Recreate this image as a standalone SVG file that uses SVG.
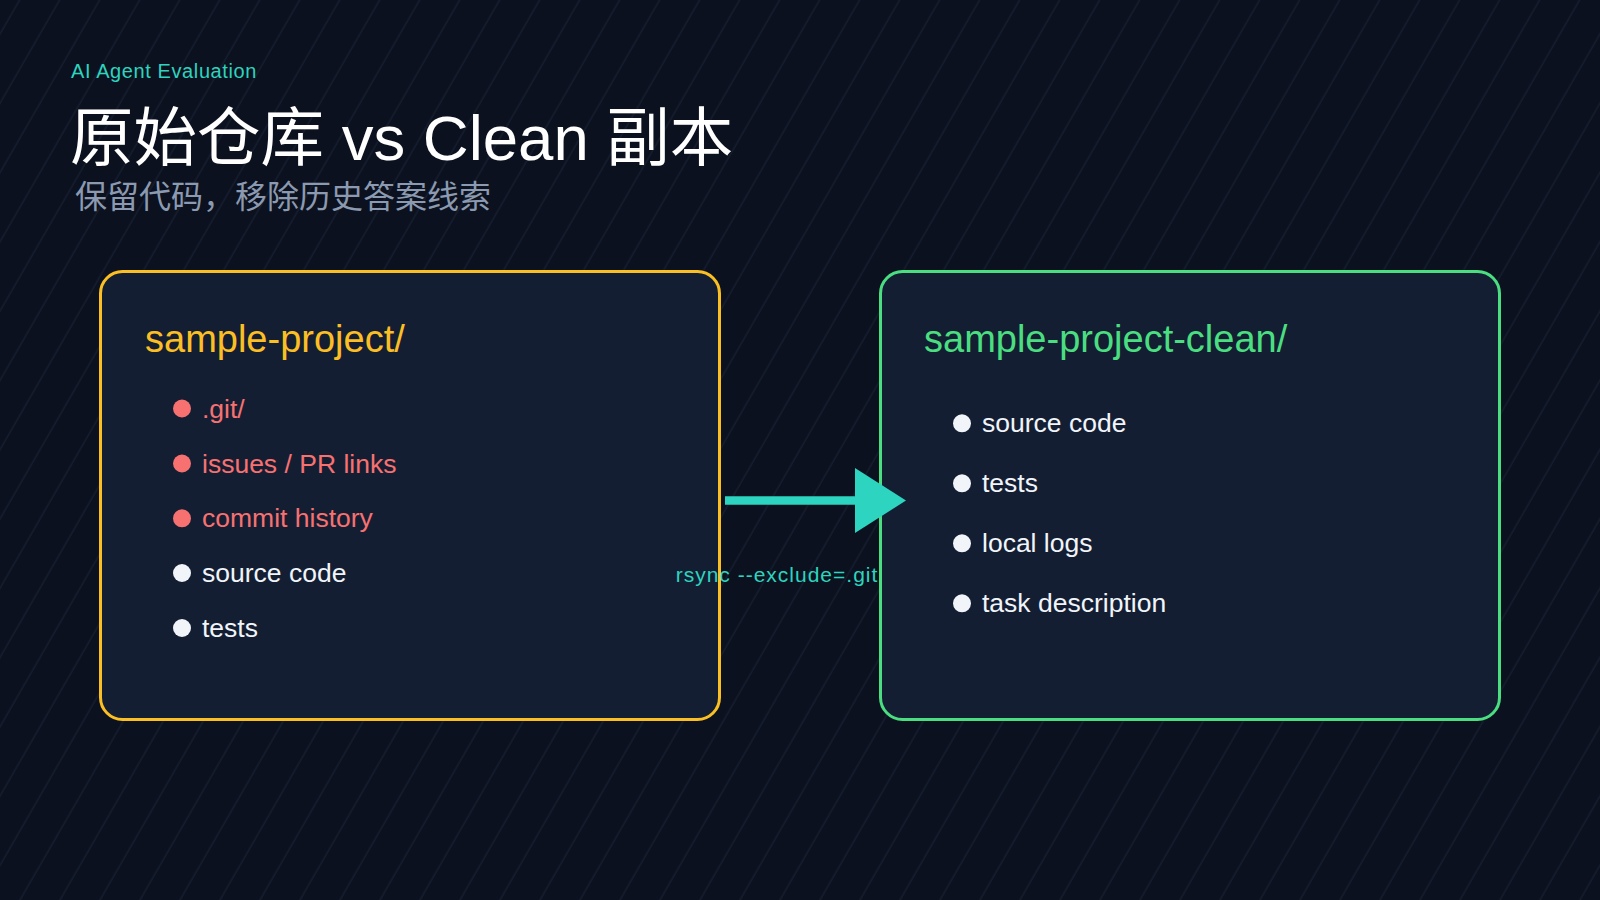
<svg xmlns="http://www.w3.org/2000/svg" width="1600" height="900" viewBox="0 0 1600 900">
  <defs>
    <pattern id="diag" width="34.64" height="34.64" patternUnits="userSpaceOnUse" patternTransform="rotate(30)">
      <line x1="17" y1="-1" x2="17" y2="36" stroke="#161e30" stroke-width="1.4"/>
    </pattern>
    <marker id="arrowhead" markerUnits="userSpaceOnUse" markerWidth="52" markerHeight="66" refX="0" refY="32.5" orient="auto">
      <path d="M0,0 L51,32.5 L0,65 Z" fill="#2dd4bf"/>
    </marker>
    <style>
      .latin { font-family: "Liberation Sans", "Noto Sans CJK SC", sans-serif; }
      .cjk { font-family: "Liberation Sans", "Noto Sans CJK SC", sans-serif; }
      .box { fill: #141e33; stroke-width: 3; }
      .item { font-size: 26.5px; }
      .red { fill: #f87171; }
      .white { fill: #f1f5f9; }
      .head { font-size: 38px; }
    </style>
  </defs>

  <rect x="0" y="0" width="1600" height="900" fill="#0b111e"/>
  <rect x="0" y="0" width="1600" height="900" fill="url(#diag)"/>

  <g id="header">
    <text x="71" y="78" class="latin" font-size="20" letter-spacing="0.6" fill="#2dd4bf">AI Agent Evaluation</text>
    <text x="70" y="160" class="cjk" font-size="63.5" fill="#ffffff">原始仓库 vs Clean 副本</text>
    <text x="75" y="208" class="cjk" font-size="32" fill="#8b9ab0">保留代码，移除历史答案线索</text>
  </g>

  <g id="original-repo">
    <rect x="100.5" y="271.5" width="619" height="448" rx="22" ry="22" class="box" stroke="#fbbf24"/>
    <text x="145" y="352" class="latin head" fill="#fbbf24">sample-project/</text>
    <circle cx="182" cy="408.5" r="9" fill="#f87171"/>
    <text x="202" y="418" class="latin item red">.git/</text>
    <circle cx="182" cy="463.5" r="9" fill="#f87171"/>
    <text x="202" y="472.5" class="latin item red">issues / PR links</text>
    <circle cx="182" cy="518.3" r="9" fill="#f87171"/>
    <text x="202" y="527" class="latin item red">commit history</text>
    <circle cx="182" cy="573" r="9" fill="#f1f5f9"/>
    <text x="202" y="582" class="latin item white">source code</text>
    <circle cx="182" cy="628" r="9" fill="#f1f5f9"/>
    <text x="202" y="637" class="latin item white">tests</text>
  </g>

  <g id="clean-copy">
    <rect x="880.5" y="271.5" width="619" height="448" rx="22" ry="22" class="box" stroke="#4ade80"/>
    <text x="924" y="352" class="latin head" fill="#4ade80">sample-project-clean/</text>
    <circle cx="962" cy="423.3" r="9" fill="#f1f5f9"/>
    <text x="982" y="432" class="latin item white">source code</text>
    <circle cx="962" cy="483.3" r="9" fill="#f1f5f9"/>
    <text x="982" y="492" class="latin item white">tests</text>
    <circle cx="962" cy="543.3" r="9" fill="#f1f5f9"/>
    <text x="982" y="552" class="latin item white">local logs</text>
    <circle cx="962" cy="603.3" r="9" fill="#f1f5f9"/>
    <text x="982" y="612" class="latin item white">task description</text>
  </g>

  <g id="connectors">
    <line x1="725" y1="500.5" x2="855" y2="500.5" stroke="#2dd4bf" stroke-width="8.5" marker-end="url(#arrowhead)"/>
    <text x="777" y="582" class="latin" font-size="21" letter-spacing="1" text-anchor="middle" fill="#2dd4bf">rsync --exclude=.git</text>
  </g>
</svg>
